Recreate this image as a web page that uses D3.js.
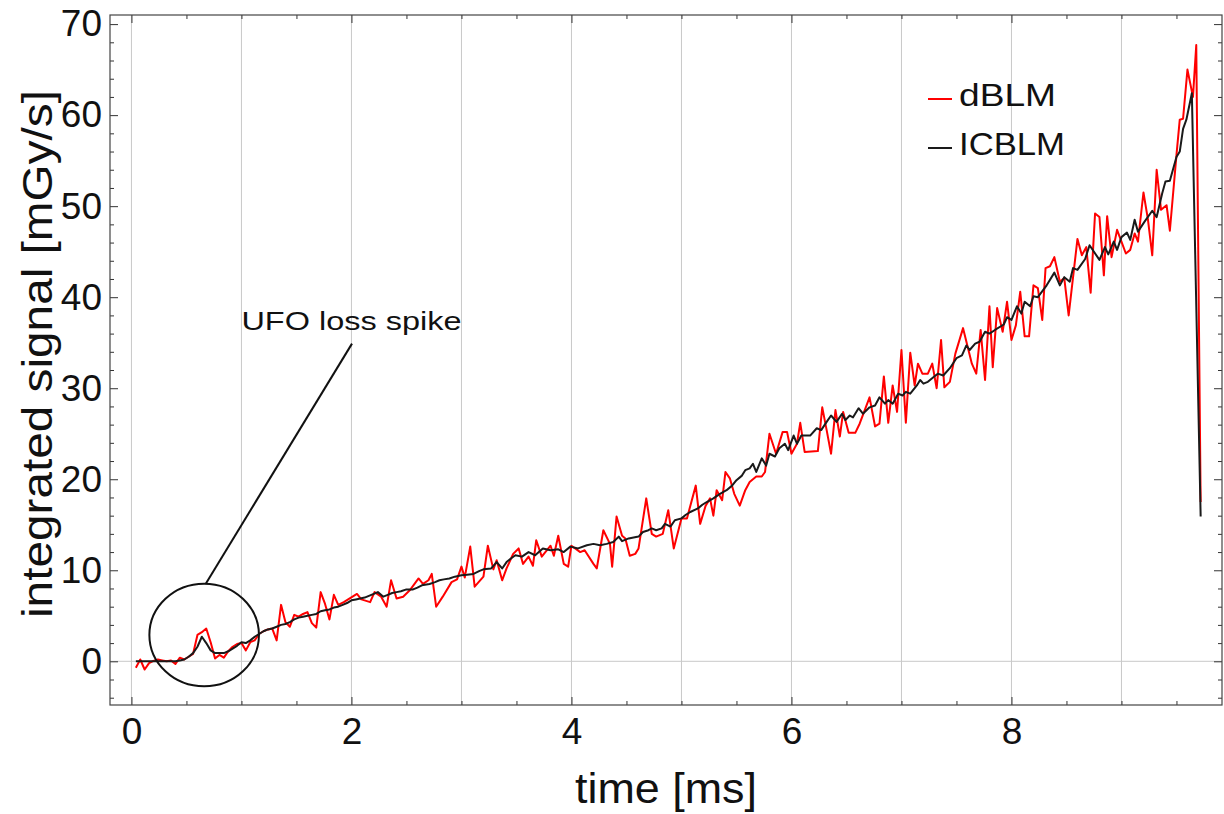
<!DOCTYPE html>
<html>
<head>
<meta charset="utf-8">
<script src="https://cdn.jsdelivr.net/npm/d3@7"></script>
<style>
  body { margin: 0; background: #fff; }
  svg { display: block; font-family: "Liberation Sans", Arial, Helvetica, sans-serif; }
</style>
</head>
<body>
<div class="js-canvas"></div>
<script>
'use strict';

// dBLM (red) integrated signal
const dblmTime = [
  0.04, 0.08, 0.12, 0.16, 0.20, 0.24, 0.28, 0.32, 0.36, 0.40, 0.44, 0.48, 0.52, 0.56, 0.60, 0.64, 0.68, 0.72, 0.76, 0.80,
  0.84, 0.88, 0.92, 0.96, 1.00, 1.04, 1.08, 1.12, 1.16, 1.20, 1.24, 1.28, 1.32, 1.36, 1.40, 1.44, 1.48, 1.52, 1.56, 1.60,
  1.64, 1.68, 1.72, 1.76, 1.80, 1.84, 1.88, 1.93, 1.97, 2.05, 2.09, 2.17, 2.21, 2.27, 2.32, 2.36, 2.41, 2.47, 2.53, 2.61,
  2.65, 2.70, 2.73, 2.77, 2.83, 2.91, 2.96, 3.00, 3.03, 3.08, 3.12, 3.20, 3.24, 3.29, 3.32, 3.37, 3.41, 3.47, 3.52, 3.56,
  3.61, 3.65, 3.68, 3.73, 3.81, 3.84, 3.88, 3.93, 3.97, 4.00, 4.08, 4.12, 4.20, 4.23, 4.29, 4.35, 4.37, 4.41, 4.46, 4.49,
  4.53, 4.58, 4.61, 4.68, 4.73, 4.77, 4.83, 4.88, 4.93, 5.00, 5.05, 5.13, 5.17, 5.22, 5.26, 5.29, 5.32, 5.37, 5.40, 5.44,
  5.48, 5.53, 5.58, 5.62, 5.68, 5.73, 5.76, 5.80, 5.83, 5.86, 5.92, 5.96, 6.00, 6.05, 6.08, 6.12, 6.24, 6.28, 6.32, 6.36,
  6.40, 6.44, 6.47, 6.52, 6.58, 6.62, 6.71, 6.76, 6.80, 6.84, 6.88, 6.92, 6.96, 7.00, 7.04, 7.08, 7.12, 7.15, 7.19, 7.24,
  7.28, 7.32, 7.36, 7.39, 7.44, 7.49, 7.56, 7.64, 7.68, 7.72, 7.76, 7.80, 7.83, 7.87, 7.92, 7.96, 8.00, 8.04, 8.08, 8.12,
  8.16, 8.20, 8.24, 8.28, 8.31, 8.35, 8.39, 8.44, 8.48, 8.52, 8.60, 8.64, 8.68, 8.72, 8.76, 8.80, 8.84, 8.87, 8.91, 8.96,
  9.00, 9.04, 9.08, 9.12, 9.15, 9.20, 9.24, 9.28, 9.32, 9.36, 9.41, 9.44, 9.50, 9.53, 9.56, 9.60, 9.65, 9.68, 9.72
];
const dblmValue = [
  -0.7, 0.2, -0.9, -0.2, 0.05, 0.2, 0.1, 0.0, 0.1, -0.3, 0.4, 0.2, 0.5, 0.8, 2.9, 3.2, 3.6, 2.1, 0.3, 0.7,
  0.4, 1.1, 1.6, 1.9, 2.0, 1.2, 2.1, 2.3, 3.0, 3.3, 3.5, 3.6, 2.3, 6.2, 4.3, 3.8, 5.1, 4.9, 5.2, 5.4,
  4.2, 3.7, 7.6, 6.3, 4.6, 7.3, 6.2, 6.5, 6.8, 7.4, 6.8, 6.5, 7.6, 7.1, 6.0, 8.9, 6.9, 7.1, 7.8, 9.1,
  8.5, 8.9, 9.6, 6.0, 7.1, 8.7, 9.0, 10.4, 9.2, 12.6, 8.2, 9.3, 12.7, 10.1, 11.1, 8.9, 10.2, 11.8, 12.4, 10.7,
  11.5, 10.5, 13.3, 11.5, 12.7, 11.6, 13.8, 10.7, 10.4, 12.7, 12.0, 12.2, 10.7, 10.2, 14.4, 12.9, 10.4, 15.9, 13.8, 13.5,
  11.6, 11.8, 12.4, 17.9, 14.0, 13.7, 14.0, 16.6, 12.4, 15.7, 15.7, 19.3, 15.1, 17.1, 17.9, 16.0, 18.8, 17.7, 20.8, 20.1,
  18.4, 17.1, 18.8, 19.7, 20.3, 20.3, 20.8, 25.0, 23.9, 22.8, 25.2, 25.2, 22.8, 23.9, 26.2, 23.0, 23.1, 27.9, 25.4, 22.8,
  27.6, 24.7, 27.4, 25.1, 25.1, 26.1, 29.0, 25.8, 26.1, 31.3, 26.2, 30.3, 27.4, 34.2, 26.2, 33.9, 30.3, 32.7, 31.6, 31.6,
  32.7, 30.0, 35.3, 30.1, 30.7, 33.8, 36.6, 32.7, 31.6, 36.4, 30.9, 39.0, 32.3, 38.8, 36.2, 39.5, 35.3, 36.9, 40.6, 35.7,
  35.7, 41.3, 41.0, 37.5, 43.2, 43.4, 44.4, 41.7, 42.1, 38.0, 46.4, 44.6, 45.5, 40.5, 49.2, 48.8, 42.4, 48.9, 44.4, 47.4,
  46.1, 44.8, 45.2, 47.0, 46.1, 51.5, 48.6, 44.6, 54.0, 49.6, 50.1, 47.3, 55.6, 59.5, 59.6, 65.0, 62.0, 67.7, 17.5
];

// ICBLM (black) integrated signal
const icblmTime = [
  0.04, 0.08, 0.12, 0.16, 0.20, 0.24, 0.28, 0.32, 0.36, 0.40, 0.44, 0.48, 0.52, 0.56, 0.60, 0.64, 0.68, 0.72, 0.76, 0.80,
  0.84, 0.88, 0.92, 0.96, 1.00, 1.04, 1.08, 1.12, 1.16, 1.20, 1.24, 1.28, 1.32, 1.36, 1.40, 1.44, 1.48, 1.52, 1.56, 1.60,
  1.64, 1.68, 1.72, 1.76, 1.80, 1.84, 1.88, 1.92, 1.96, 2.00, 2.04, 2.08, 2.12, 2.17, 2.24, 2.29, 2.33, 2.37, 2.41, 2.45,
  2.50, 2.56, 2.60, 2.64, 2.71, 2.76, 2.80, 2.84, 2.89, 2.94, 3.00, 3.05, 3.11, 3.16, 3.20, 3.27, 3.32, 3.37, 3.41, 3.45,
  3.49, 3.55, 3.61, 3.67, 3.74, 3.81, 3.88, 3.93, 3.99, 4.06, 4.14, 4.20, 4.26, 4.32, 4.38, 4.43, 4.46, 4.52, 4.61, 4.65,
  4.70, 4.73, 4.77, 4.82, 4.85, 4.90, 4.94, 5.00, 5.04, 5.08, 5.15, 5.19, 5.23, 5.29, 5.35, 5.41, 5.46, 5.50, 5.55, 5.58,
  5.62, 5.65, 5.68, 5.73, 5.77, 5.80, 5.85, 5.89, 5.94, 5.97, 6.02, 6.05, 6.09, 6.17, 6.23, 6.27, 6.32, 6.36, 6.41, 6.46,
  6.49, 6.53, 6.56, 6.61, 6.65, 6.71, 6.76, 6.80, 6.85, 6.88, 6.92, 6.97, 7.01, 7.04, 7.08, 7.14, 7.17, 7.20, 7.24, 7.29,
  7.33, 7.38, 7.44, 7.50, 7.55, 7.59, 7.62, 7.67, 7.71, 7.76, 7.80, 7.85, 7.93, 7.96, 8.00, 8.05, 8.09, 8.12, 8.17, 8.20,
  8.24, 8.32, 8.39, 8.44, 8.48, 8.53, 8.56, 8.60, 8.67, 8.71, 8.80, 8.85, 8.88, 8.93, 8.96, 9.00, 9.05, 9.08, 9.12, 9.15,
  9.21, 9.28, 9.32, 9.37, 9.40, 9.44, 9.50, 9.53, 9.56, 9.59, 9.64, 9.72
];
const icblmValue = [
  0.0, 0.0, 0.0, 0.0, 0.0, 0.0, 0.0, 0.0, 0.0, 0.0, 0.1, 0.2, 0.5, 0.9, 1.6, 2.7, 2.0, 1.2, 0.9, 0.9,
  0.9, 1.1, 1.4, 1.7, 2.1, 2.0, 2.3, 2.7, 3.0, 3.3, 3.5, 3.6, 3.8, 4.0, 4.1, 4.3, 4.6, 4.8, 4.9, 5.0,
  5.1, 5.2, 5.5, 5.6, 5.7, 5.9, 6.0, 6.2, 6.4, 6.7, 6.8, 6.9, 7.0, 7.25, 7.6, 7.1, 7.3, 7.5, 7.6, 7.7,
  7.9, 7.9, 8.1, 8.35, 8.5, 8.7, 8.9, 9.0, 9.1, 9.3, 9.45, 9.5, 9.6, 9.9, 10.1, 10.2, 10.9, 10.2, 10.9, 11.3,
  11.65, 11.5, 12.0, 11.65, 12.4, 12.2, 12.3, 12.0, 12.6, 12.4, 12.75, 12.9, 12.75, 12.9, 13.1, 13.7, 13.2, 13.5, 13.7, 14.2,
  14.4, 14.6, 14.4, 14.6, 15.1, 14.8, 15.5, 15.7, 16.1, 16.4, 16.8, 17.2, 17.5, 17.9, 18.4, 18.8, 19.3, 19.9, 20.4, 21.0,
  21.2, 21.7, 20.8, 22.3, 21.5, 22.8, 22.5, 23.4, 23.9, 23.2, 24.8, 23.9, 24.8, 24.8, 25.6, 25.4, 26.3, 27.0, 26.3, 27.2,
  26.5, 27.0, 26.8, 27.8, 27.2, 27.9, 28.1, 29.0, 28.3, 28.7, 28.3, 29.4, 29.2, 29.6, 29.4, 30.3, 30.9, 30.5, 30.7, 31.2,
  31.6, 31.4, 32.2, 33.3, 33.6, 34.7, 34.2, 34.9, 35.1, 36.2, 36.0, 36.4, 37.0, 37.8, 37.5, 39.0, 38.2, 39.5, 39.0, 40.1,
  40.0, 41.3, 42.7, 41.3, 42.2, 41.7, 43.2, 43.0, 44.2, 45.7, 44.1, 45.5, 44.7, 46.1, 45.2, 46.6, 47.1, 46.3, 48.5, 47.2,
  48.3, 49.5, 48.8, 51.4, 52.7, 52.8, 55.4, 56.0, 58.5, 59.5, 62.4, 15.9
];

const seriesNames = ['dBLM', 'ICBLM'];
const seriesColors = ['#ff0000', '#1a1a1a'];

const xMajorTicks = [0, 2, 4, 6, 8];
const xGridTicks = [0, 1, 2, 3, 4, 5, 6, 7, 8, 9];
const yMajorTicks = [0, 10, 20, 30, 40, 50, 60, 70];

// annotation (data coordinates)
const spikeCenter = { t: 0.661, v: 2.89 };
const spikeRadius = { t: 0.498, v: 5.64 };
const pointerFrom = { t: 0.677, v: 8.55 };
const pointerTo = { t: 2.005, v: 34.9 };
const noteLabel = { t: 1.0, v: 36.4, text: 'UFO loss spike' };

const config = {
    width: 1224,
    height: 814,
    margin: { top: 15, right: 2, bottom: 109, left: 110 }
};
const graphWidth = config.width - config.margin.left - config.margin.right;
const graphHeight = config.height - config.margin.top - config.margin.bottom;

const svg = d3.select('.js-canvas')
    .append('svg')
    .attr('width', config.width)
    .attr('height', config.height);

const graph = svg.append('g')
    .attr('transform', `translate(${config.margin.left}, ${config.margin.top})`);

const x = d3.scaleLinear().domain([-0.195, 9.914]).range([0, graphWidth]);
const y = d3.scaleLinear().domain([-4.8, 71]).range([graphHeight, 0]);

// grid
graph.append('g')
    .selectAll('line')
    .data(xGridTicks)
    .enter().append('line')
    .attr('x1', d => x(d)).attr('x2', d => x(d))
    .attr('y1', 0).attr('y2', graphHeight)
    .attr('stroke', '#c8c8c8').attr('stroke-width', 1);

graph.append('line')
    .attr('x1', 0).attr('x2', graphWidth)
    .attr('y1', y(0)).attr('y2', y(0))
    .attr('stroke', '#c8c8c8').attr('stroke-width', 1);

// minor tick values
const xMinor = d3.range(0, 10, 0.5).filter(d => xMajorTicks.indexOf(d) < 0);
const yMinor = d3.range(-4, 71, 2).filter(d => d % 10 !== 0);

const styleAxis = g => {
    g.select('.domain').remove();
    g.selectAll('.tick line').attr('stroke', '#333');
};

// bottom axis with labels
const xAxisGroup = graph.append('g').attr('transform', `translate(0, ${graphHeight})`);
xAxisGroup.call(d3.axisBottom(x).tickValues(xMajorTicks).tickSize(-8).tickPadding(13).tickFormat(d3.format('d')))
    .call(styleAxis);
xAxisGroup.selectAll('text').attr('font-size', 37).attr('fill', '#111')
    .attr('font-family', '"Liberation Sans", Arial, sans-serif');
graph.append('g').attr('transform', `translate(0, ${graphHeight})`)
    .call(d3.axisBottom(x).tickValues(xMinor).tickSize(-4).tickFormat(''))
    .call(styleAxis);

// top axis ticks only
graph.append('g').call(d3.axisTop(x).tickValues(xMajorTicks).tickSize(-8).tickFormat('')).call(styleAxis);
graph.append('g').call(d3.axisTop(x).tickValues(xMinor).tickSize(-4).tickFormat('')).call(styleAxis);

// left axis with labels
const yAxisGroup = graph.append('g');
yAxisGroup.call(d3.axisLeft(y).tickValues(yMajorTicks).tickSize(-8).tickPadding(8).tickFormat(d3.format('d')))
    .call(styleAxis);
yAxisGroup.selectAll('text').attr('font-size', 37).attr('fill', '#111')
    .attr('font-family', '"Liberation Sans", Arial, sans-serif');
graph.append('g').call(d3.axisLeft(y).tickValues(yMinor).tickSize(-4).tickFormat('')).call(styleAxis);

// right axis ticks only
graph.append('g').attr('transform', `translate(${graphWidth}, 0)`)
    .call(d3.axisRight(y).tickValues(yMajorTicks).tickSize(-8).tickFormat('')).call(styleAxis);
graph.append('g').attr('transform', `translate(${graphWidth}, 0)`)
    .call(d3.axisRight(y).tickValues(yMinor).tickSize(-4).tickFormat('')).call(styleAxis);

// frame
graph.append('rect')
    .attr('width', graphWidth).attr('height', graphHeight)
    .attr('fill', 'none').attr('stroke', '#444').attr('stroke-width', 1.2);

// clip
svg.append('defs').append('clipPath').attr('id', 'plot-clip')
    .append('rect').attr('width', graphWidth).attr('height', graphHeight);

const line = d3.line().x(d => x(d[0])).y(d => y(d[1]));
const plot = graph.append('g').attr('clip-path', 'url(#plot-clip)');

const dblm = dblmTime.map((t, i) => [t, dblmValue[i]]);
const icblm = icblmTime.map((t, i) => [t, icblmValue[i]]);

plot.append('path').datum(dblm)
    .attr('d', line).attr('fill', 'none')
    .attr('stroke', seriesColors[0]).attr('stroke-width', 2).attr('stroke-linejoin', 'round');
plot.append('path').datum(icblm)
    .attr('d', line).attr('fill', 'none')
    .attr('stroke', seriesColors[1]).attr('stroke-width', 2).attr('stroke-linejoin', 'round');

// annotation
plot.append('ellipse')
    .attr('cx', x(spikeCenter.t)).attr('cy', y(spikeCenter.v))
    .attr('rx', x(spikeCenter.t + spikeRadius.t) - x(spikeCenter.t))
    .attr('ry', y(spikeCenter.v) - y(spikeCenter.v + spikeRadius.v))
    .attr('fill', 'none').attr('stroke', '#111').attr('stroke-width', 2);
plot.append('line')
    .attr('x1', x(pointerFrom.t)).attr('y1', y(pointerFrom.v))
    .attr('x2', x(pointerTo.t)).attr('y2', y(pointerTo.v))
    .attr('stroke', '#111').attr('stroke-width', 2);
graph.append('text')
    .attr('x', x(noteLabel.t)).attr('y', y(noteLabel.v))
    .attr('font-size', 25).attr('fill', '#111')
    .attr('textLength', 220).attr('lengthAdjust', 'spacingAndGlyphs')
    .text(noteLabel.text);

// legend
const legend = svg.append('g').attr('transform', 'translate(928, 99)');
const legendWidths = [97, 106];
seriesNames.forEach((name, i) => {
    const row = legend.append('g').attr('transform', `translate(0, ${i * 49})`);
    row.append('line').attr('x1', 0).attr('x2', 24).attr('y1', 0).attr('y2', 0)
        .attr('stroke', seriesColors[i]).attr('stroke-width', 2);
    row.append('text').attr('x', 31).attr('y', 7).attr('font-size', 32).attr('fill', '#111')
        .attr('textLength', legendWidths[i]).attr('lengthAdjust', 'spacingAndGlyphs')
        .text(name);
});

// axis titles
svg.append('text')
    .attr('x', 666).attr('y', 803)
    .attr('text-anchor', 'middle').attr('font-size', 42).attr('fill', '#111')
    .attr('textLength', 182).attr('lengthAdjust', 'spacingAndGlyphs')
    .text('time [ms]');
svg.append('text')
    .attr('transform', 'translate(52, 354) rotate(-90)')
    .attr('text-anchor', 'middle').attr('font-size', 42).attr('fill', '#111')
    .attr('textLength', 528).attr('lengthAdjust', 'spacingAndGlyphs')
    .text('integrated signal [mGy/s]');
</script>
</body>
</html>
